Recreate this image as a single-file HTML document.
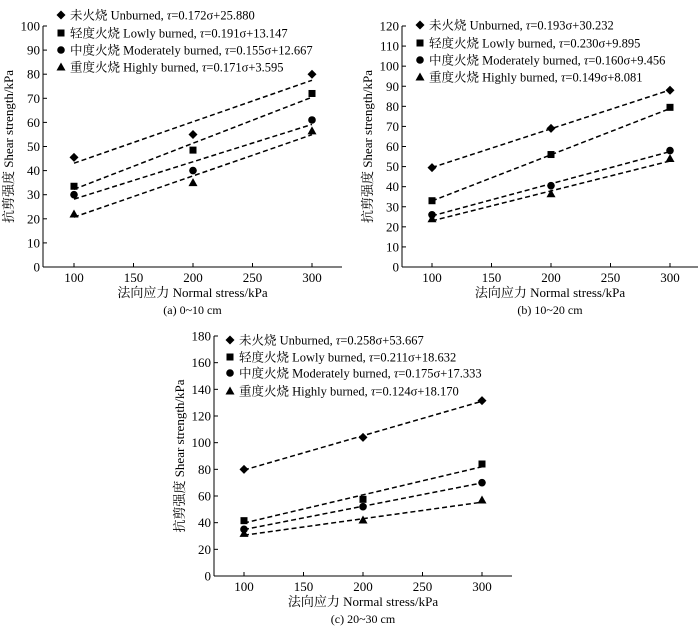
<!DOCTYPE html>
<html><head><meta charset="utf-8"><style>
html,body{margin:0;padding:0;background:#fff;}
svg{display:block;font-family:"Liberation Serif","Noto Serif CJK SC","Noto Sans CJK SC",serif;}
</style></head><body>
<svg id="fig" width="700" height="628" viewBox="0 0 700 628" xmlns="http://www.w3.org/2000/svg"></svg>
<script>
const xCats = [100, 200, 300];
const xTicks = [100, 150, 200, 250, 300];
const seriesNames = ["未火烧 Unburned", "轻度火烧 Lowly burned", "中度火烧 Moderately burned", "重度火烧 Highly burned"];
const seriesKeys = ["unburned", "lowly", "moderately", "highly"];
// Panel (a) 0~10 cm
const aUnburned = [45.5, 55, 80];
const aLowly = [33.5, 48.5, 72];
const aModerately = [30, 40, 61];
const aHighly = [22, 35, 56.5];
const aSlopes = [0.172, 0.191, 0.155, 0.171];
const aIntercepts = [25.880, 13.147, 12.667, 3.595];
const aEqLabels = ["0.172σ+25.880", "0.191σ+13.147", "0.155σ+12.667", "0.171σ+3.595"];
const aYTicks = [0,10,20,30,40,50,60,70,80,90,100];
// Panel (b) 10~20 cm
const bUnburned = [49.5, 69, 88];
const bLowly = [33, 56, 79.5];
const bModerately = [26, 40.5, 58];
const bHighly = [24, 36.5, 54];
const bSlopes = [0.193, 0.230, 0.160, 0.149];
const bIntercepts = [30.232, 9.895, 9.456, 8.081];
const bEqLabels = ["0.193σ+30.232", "0.230σ+9.895", "0.160σ+9.456", "0.149σ+8.081"];
const bYTicks = [0,10,20,30,40,50,60,70,80,90,100,110,120];
// Panel (c) 20~30 cm
const cUnburned = [80, 104, 131.5];
const cLowly = [41.5, 57.5, 84];
const cModerately = [35, 52, 70];
const cHighly = [32, 42, 57];
const cSlopes = [0.258, 0.211, 0.175, 0.124];
const cIntercepts = [53.667, 18.632, 17.333, 18.170];
const cEqLabels = ["0.258σ+53.667", "0.211σ+18.632", "0.175σ+17.333", "0.124σ+18.170"];
const cYTicks = [0,20,40,60,80,100,120,140,160,180];

const NS = "http://www.w3.org/2000/svg";
const fig = document.getElementById("fig");
function mk(tag, attrs, parent, text){
  const e = document.createElementNS(NS, tag);
  for (const k in attrs) e.setAttribute(k, attrs[k]);
  if (text !== undefined) e.textContent = text;
  parent.appendChild(e);
  return e;
}
function marker(g, kind, cx, cy){
  let m;
  if (kind === 0) m = mk("polygon", {points:`${cx},${cy-4.5} ${cx+4.5},${cy} ${cx},${cy+4.5} ${cx-4.5},${cy}`, fill:"#000"}, g);
  else if (kind === 1) m = mk("rect", {x:cx-3.5, y:cy-3.5, width:7, height:7, fill:"#000"}, g);
  else if (kind === 2) m = mk("circle", {cx:cx, cy:cy, r:3.8, fill:"#000"}, g);
  else m = mk("polygon", {points:`${cx},${cy-4.5} ${cx+4.5},${cy+3.5} ${cx-4.5},${cy+3.5}`, fill:"#000"}, g);
  return m;
}
function panel(cfg){
  const g = mk("g", {}, fig);
  
  
  const X = v => cfg.x100 + (v - 100) * (cfg.x300 - cfg.x100) / 200;
  const Y = v => cfg.y0 - v * (cfg.y0 - cfg.yTop) / cfg.yMax;
  // axes
  const ya = mk("line", {x1:cfg.ax, y1:cfg.y0, x2:cfg.ax, y2:cfg.yTop, stroke:"#000", "stroke-width":1}, g);
  
  
  const xa = mk("line", {x1:cfg.ax, y1:cfg.y0, x2:cfg.axEnd, y2:cfg.y0, stroke:"#000", "stroke-width":1}, g);
  
  
  cfg.yTicks.forEach(t => {
    const y = Y(t);
    mk("line", {x1:cfg.ax, y1:y, x2:cfg.ax+4, y2:y, stroke:"#000"}, g);
    const tl = mk("text", {x:cfg.ax-3, y:y+4.5, "text-anchor":"end", "font-size":"13"}, g, String(t));
    
    
  });
  xTicks.forEach(t => {
    const x = X(t);
    mk("line", {x1:x, y1:cfg.y0, x2:x, y2:cfg.y0-4, stroke:"#000"}, g);
    const tl = mk("text", {x:x, y:cfg.y0+15, "text-anchor":"middle", "font-size":"13"}, g, String(t));
    
    
  });
  const xt = mk("text", {x:(cfg.ax+cfg.axEnd)/2, y:cfg.y0+30, "text-anchor":"middle", "font-size":"13"}, g, "法向应力 Normal stress/kPa");
  
  
  const cap = mk("text", {x:(cfg.ax+cfg.axEnd)/2, y:cfg.y0+47, "text-anchor":"middle", "font-size":"12"}, g, cfg.caption);
  
  
  const ycx = cfg.ax - 30, ycy = (cfg.y0 + cfg.yTop)/2;
  const yt = mk("text", {x:ycx, y:ycy, "text-anchor":"middle", "font-size":"13", transform:`rotate(-90 ${ycx} ${ycy})`}, g, "抗剪强度 Shear strength/kPa");
  
  
  // fit lines and points
  cfg.series.forEach((vals, i) => {
    const ln = mk("line", {x1:X(100), y1:Y(cfg.slopes[i]*100+cfg.intercepts[i]), x2:X(300), y2:Y(cfg.slopes[i]*300+cfg.intercepts[i]), stroke:"#000", "stroke-width":1.5, "stroke-dasharray":"5,3"}, g);
    
    
    vals.forEach((v, j) => {
      const m = marker(g, i, X(xCats[j]), Y(v));
      
      
    });
  });
  // legend
  cfg.legendY.forEach((ly, i) => {
    const lg = mk("g", {}, g);
    
    
    marker(lg, i, cfg.legX, ly);
    const t = mk("text", {x:cfg.legX+9, y:ly+4.5, "font-size":"12.5"}, lg);
    t.appendChild(document.createTextNode(seriesNames[i] + ", "));
    mk("tspan", {"font-style":"italic"}, t, "τ");
    t.appendChild(document.createTextNode("=" + cfg.eq[i]));
  });
}
panel({name:"panel-a", x100:74, x300:312, ax:43, axEnd:342, y0:267, yTop:26, yMax:100, yTicks:aYTicks,
  series:[aUnburned,aLowly,aModerately,aHighly], slopes:aSlopes, intercepts:aIntercepts, eq:aEqLabels,
  legX:61, legendY:[15,33,50,67], caption:"(a) 0~10 cm"});
panel({name:"panel-b", x100:432, x300:670, ax:402, axEnd:698, y0:267, yTop:26, yMax:120, yTicks:bYTicks,
  series:[bUnburned,bLowly,bModerately,bHighly], slopes:bSlopes, intercepts:bIntercepts, eq:bEqLabels,
  legX:420, legendY:[25,43,60,77], caption:"(b) 10~20 cm"});
panel({name:"panel-c", x100:244, x300:482, ax:214, axEnd:512, y0:576, yTop:336, yMax:180, yTicks:cYTicks,
  series:[cUnburned,cLowly,cModerately,cHighly], slopes:cSlopes, intercepts:cIntercepts, eq:cEqLabels,
  legX:230, legendY:[340,357,373,391], caption:"(c) 20~30 cm"});
</script>
</body></html>
